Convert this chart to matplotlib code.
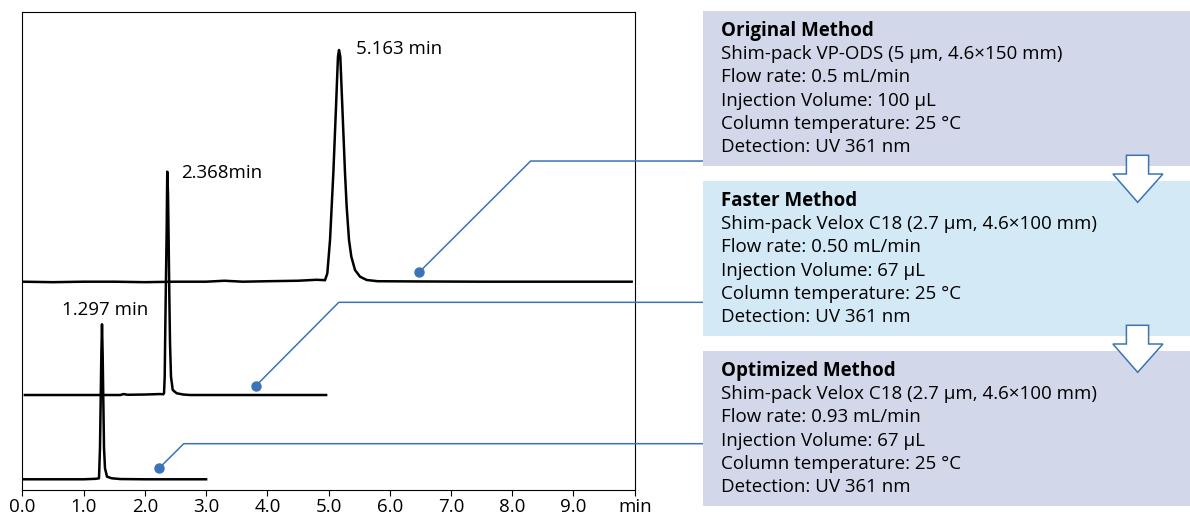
import numpy as np
import matplotlib.pyplot as plt
from matplotlib.patches import Rectangle, Polygon

plt.rcParams['font.family'] = ['Open Sans', 'DejaVu Sans']

# chromatogram traces (time in min, signal relative to own baseline)
t_original = [0.0, 0.5, 1.0, 1.5, 2.0, 2.5, 3.0, 3.3, 3.6, 4.0, 4.5, 4.8, 4.9,
              4.942, 4.98, 5.024, 5.051, 5.078, 5.100, 5.122, 5.143, 5.154, 5.171,
              5.192, 5.203, 5.225, 5.247, 5.269, 5.296, 5.334, 5.372, 5.432, 5.514,
              5.623, 5.8, 6.5, 7.5, 8.5, 9.95]
s_original = [0.0, -0.1, 0.0, 0.0, -0.1, 0.0, 0.0, 0.2, 0.0, 0.1, 0.2, 0.4, 0.35,
              0.3, 1.76, 8.72, 15.68, 22.66, 29.63, 36.59, 43.57, 47.04, 48.44,
              47.04, 43.57, 36.59, 29.63, 22.66, 15.68, 8.72, 5.23, 2.45, 1.05,
              0.36, 0.1, 0.05, 0.0, 0.0, 0.0]

t_faster = [0.04, 0.5, 1.0, 1.6, 1.65, 1.72, 2.0, 2.25, 2.30, 2.313, 2.324, 2.334,
            2.345, 2.357, 2.362, 2.366, 2.378, 2.389, 2.399, 2.411, 2.427, 2.455,
            2.520, 2.628, 2.74, 3.2, 4.0, 4.96]
s_faster = [0.0, 0.0, 0.0, 0.0, 0.2, 0.05, 0.1, 0.2, 0.15, 0.36, 3.83, 14.28,
            24.73, 35.19, 42.17, 46.69, 42.17, 31.72, 21.26, 10.81, 3.83, 1.05,
            0.36, 0.1, 0.0, 0.0, 0.0, 0.0]

t_optimized = [0.0, 0.5, 1.0, 1.2, 1.251, 1.267, 1.279, 1.289, 1.300, 1.311, 1.321,
               1.333, 1.349, 1.382, 1.458, 1.6, 2.0, 2.5, 3.0]
s_optimized = [0.0, 0.0, 0.0, 0.1, 0.21, 6.48, 16.93, 25.99, 32.41, 25.99, 16.93,
               6.48, 2.30, 0.54, 0.21, 0.05, 0.0, 0.0, 0.0]

offsets = [43.55, 19.86, 2.24]
peak_labels = ['5.163 min', '2.368min', '1.297 min']
label_pos = [(5.45, 92.2), (2.60, 66.3), (0.65, 37.6)]

# callouts: dot (x, y) and elbow (x, y) in data units
callout_dots = [(6.477, 45.5), (3.815, 21.81), (2.231, 4.54)]
callout_elbows = [(8.30, 68.78), (5.167, 39.24), (2.634, 9.68)]
box_edge_x = 11.11

titles = ['Original Method', 'Faster Method', 'Optimized Method']
details = [
    ['Shim-pack VP-ODS (5 µm, 4.6×150 mm)', 'Flow rate: 0.5 mL/min',
     'Injection Volume: 100 µL', 'Column temperature: 25 °C', 'Detection: UV 361 nm'],
    ['Shim-pack Velox C18 (2.7 µm, 4.6×100 mm)', 'Flow rate: 0.50 mL/min',
     'Injection Volume: 67 µL', 'Column temperature: 25 °C', 'Detection: UV 361 nm'],
    ['Shim-pack Velox C18 (2.7 µm, 4.6×100 mm)', 'Flow rate: 0.93 mL/min',
     'Injection Volume: 67 µL', 'Column temperature: 25 °C', 'Detection: UV 361 nm'],
]
box_colors = ['#d3d7ea', '#d3e9f6', '#d3d7ea']

x_ticks = [0, 1, 2, 3, 4, 5, 6, 7, 8, 9, 10]
x_ticklabels = ['0.0', '1.0', '2.0', '3.0', '4.0', '5.0', '6.0', '7.0', '8.0', '9.0', 'min']

FS = 13.5
W, H = 1190, 518
fig = plt.figure(figsize=(W / 100, H / 100), dpi=100)
ax = fig.add_axes([22.4 / W, 1 - 490 / H, (634.7 - 22.4) / W, (490 - 11.7) / H])

blue = '#3b74b6'
traces = [(t_original, s_original), (t_faster, s_faster), (t_optimized, s_optimized)]
for (t, s), off, lab, (lx, ly) in zip(traces, offsets, peak_labels, label_pos):
    ax.plot(t, np.array(s) + off, color='black', lw=1.8, solid_joinstyle='round')
    ax.text(lx, ly, lab, fontsize=FS, va='center', ha='left')

for (dx, dy), (ex, ey) in zip(callout_dots, callout_elbows):
    ax.plot([dx, ex, box_edge_x], [dy, ey, ey], color=blue, lw=1.1, clip_on=False, zorder=3)
    ax.plot(dx, dy, 'o', color=blue, ms=6.5, zorder=4)

ax.set_xlim(0, 10)
ax.set_ylim(0, 100)
ax.set_xticks(x_ticks)
ax.set_xticklabels(x_ticklabels, fontsize=FS)
ax.set_yticks([])
ax.tick_params(axis='x', length=4, width=0.8, pad=2)
for sp in ax.spines.values():
    sp.set_linewidth(0.8)

# method boxes
box_tops = [11, 181, 351]
box_h = 154.7
for top, col, title, lines in zip(box_tops, box_colors, titles, details):
    fig.patches.append(Rectangle((702.9 / W, 1 - (top + box_h) / H), (W - 702.9) / W, box_h / H,
                                 transform=fig.transFigure, facecolor=col, edgecolor='none', zorder=0))
    y = top + 19.7
    fig.text(721 / W, 1 - y / H, title, fontsize=FS, fontweight='bold', va='center')
    for ln in lines:
        y += 23.3
        fig.text(721 / W, 1 - y / H, ln, fontsize=FS, va='center')

# hollow down arrows between boxes
for top in [155.3, 325.3]:
    pts = [(1126.4, top), (1148.6, top), (1148.6, top + 18.7), (1162.9, top + 18.7),
           (1137.7, top + 47), (1112.9, top + 18.7), (1126.4, top + 18.7)]
    fig.patches.append(Polygon([(px / W, 1 - py / H) for px, py in pts], closed=True,
                               transform=fig.transFigure, facecolor='white',
                               edgecolor=blue, lw=1.1, zorder=5))

fig.savefig('out.png', dpi=100)
